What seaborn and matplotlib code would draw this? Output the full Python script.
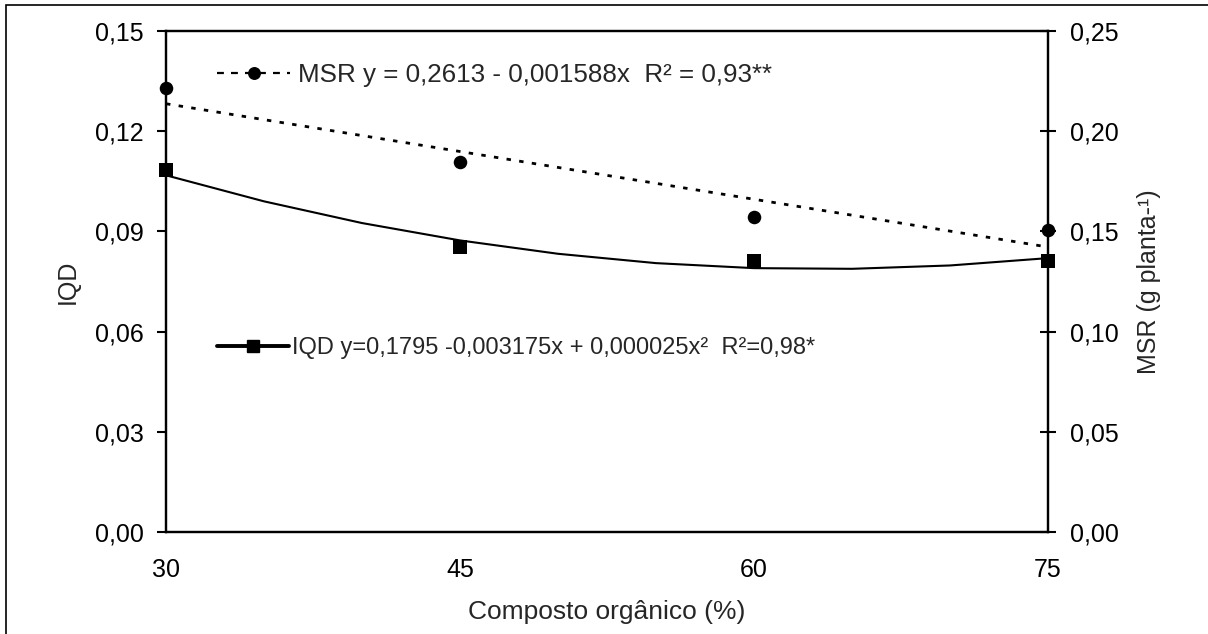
import numpy as np
import pandas as pd
import seaborn as sns
import matplotlib
matplotlib.use("Agg")
import matplotlib.pyplot as plt
from matplotlib.lines import Line2D
from matplotlib.patches import Rectangle

# ---------------- data ----------------
composto = [30, 45, 60, 75]
iqd = [0.1084, 0.0853, 0.0811, 0.0811]
msr = [0.2216, 0.1846, 0.1570, 0.1507]

# trend lines as drawn in the picture
trend_x = [30, 35, 40, 45, 50, 55, 60, 65, 70, 75]
iqd_trend = [0.1068, 0.0990, 0.0925, 0.0873, 0.0833, 0.0805, 0.0790, 0.0788, 0.0798, 0.0820]
msr_trend_x = [30, 75]
msr_trend = [0.2137, 0.1422]

iqd_ticks = [0.00, 0.03, 0.06, 0.09, 0.12, 0.15]
msr_ticks = [0.00, 0.05, 0.10, 0.15, 0.20, 0.25]
x_ticks = [30, 45, 60, 75]

iqd_label = "IQD y=0,1795 -0,003175x + 0,000025x²  R²=0,98*"
msr_label = "MSR y = 0,2613 - 0,001588x  R² = 0,93**"

df_pts = pd.DataFrame({"x": composto, "iqd": iqd, "msr": msr})
df_iqd = pd.DataFrame({"x": trend_x, "y": iqd_trend})
df_msr = pd.DataFrame({"x": msr_trend_x, "y": msr_trend})

# ---------------- style ----------------
sns.set_style("white")
plt.rcParams["font.family"] = ["Liberation Sans", "DejaVu Sans"]

W, H = 1208, 634
PX = 72 / 100  # points per pixel
fig = plt.figure(figsize=(W / 100, H / 100), dpi=100)
ax = fig.add_axes([166 / W, 1 - 532 / H, (1048 - 166) / W, (532 - 31) / H])
ax2 = ax.twinx()

# IQD (left axis)
sns.lineplot(data=df_iqd, x="x", y="y", ax=ax, color="black", linewidth=1.5, legend=False)
sns.scatterplot(data=df_pts, x="x", y="iqd", ax=ax, marker="s", s=90, color="black",
                edgecolor="black", linewidth=0, zorder=5, legend=False, clip_on=False)

# MSR (right axis)
sns.lineplot(data=df_msr, x="x", y="y", ax=ax2, color="black", linewidth=2.0, legend=False)
ax2.lines[-1].set_dashes([1.6, 3.0])
sns.scatterplot(data=df_pts, x="x", y="msr", ax=ax2, marker="o", s=95, color="black",
                edgecolor="black", linewidth=0, zorder=5, legend=False, clip_on=False)

ax.set_xlim(30, 75)
ax.set_ylim(0, 0.15)
ax2.set_ylim(0, 0.25)
ax.set_xticks(x_ticks)
ax.set_xticklabels([str(v) for v in x_ticks])
ax.set_yticks(iqd_ticks)
ax.set_yticklabels([f"{v:.2f}".replace(".", ",") for v in iqd_ticks])
ax2.set_yticks(msr_ticks)
ax2.set_yticklabels([f"{v:.2f}".replace(".", ",") for v in msr_ticks])

for a in (ax, ax2):
    for s in a.spines.values():
        s.set_linewidth(1.6)
        s.set_color("black")

TS = 18
ax.tick_params(axis="y", direction="out", length=6.5, width=1.5, pad=9.4, labelsize=TS, colors="black")
ax.tick_params(axis="x", direction="out", length=6.5, width=1.5, pad=12, labelsize=TS, colors="black")
ax2.tick_params(axis="y", direction="inout", length=12, width=1.5, pad=9.7, labelsize=TS, colors="black")

ax.set_xlabel("Composto orgânico (%)", fontsize=19)
ax.set_ylabel("IQD", fontsize=18)
ax2.set_ylabel("MSR (g planta-¹)", fontsize=18)
ax.xaxis.set_label_coords(0.5, -(600 - 532) / 501)
ax.yaxis.set_label_coords((80 - 166) / 882, 0.5)
ax2.yaxis.set_label_coords((1137 - 166) / 882, 0.5)

# legends
G1, G2 = 18.7, 17.0
h_msr = Line2D([], [], color="black", linewidth=1.6, dashes=[3.1, 3.2], marker="o", markersize=8.3)
h_iqd = Line2D([], [], color="black", linewidth=2.8, marker="s", markersize=8.5)
leg1 = fig.legend([h_msr], [msr_label], loc="center left", bbox_to_anchor=(217 / W, 1 - 75 / H),
                  frameon=False, fontsize=G1, handlelength=73 * PX / G1,
                  handletextpad=8 * PX / G1, borderpad=0, borderaxespad=0)
leg2 = fig.legend([h_iqd], [iqd_label], loc="center left", bbox_to_anchor=(217 / W, 1 - 348 / H),
                  frameon=False, fontsize=G2, handlelength=72 * PX / G2,
                  handletextpad=3 * PX / G2, borderpad=0, borderaxespad=0)

# outer frame of the figure (cropped on right and bottom)
fig.patches.append(Rectangle((6 / W, -0.5), 2.0, 1.5 - 5 / H, transform=fig.transFigure,
                             fill=False, edgecolor="black", linewidth=1.2))

fig.savefig("out.png", dpi=100)
